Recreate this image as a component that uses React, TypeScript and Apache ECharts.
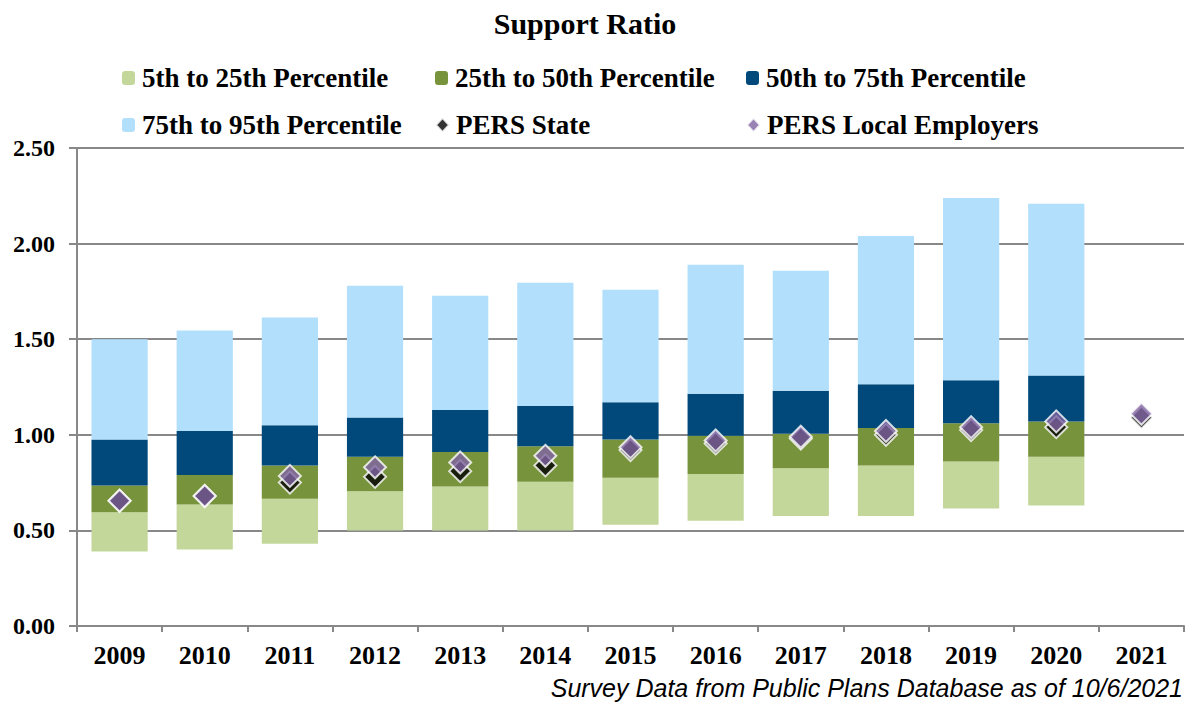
import React, { useEffect, useRef } from "react";
import * as echarts from "echarts";

const years = ["2009","2010","2011","2012","2013","2014","2015","2016","2017","2018","2019","2020","2021"];
const p5  = [0.39, 0.40, 0.43, 0.50, 0.50, 0.50, 0.53, 0.55, 0.575, 0.575, 0.615, 0.63, null];
const p25 = [0.595, 0.635, 0.665, 0.705, 0.73, 0.755, 0.775, 0.795, 0.825, 0.84, 0.86, 0.885, null];
const p50 = [0.735, 0.79, 0.84, 0.885, 0.91, 0.94, 0.975, 0.995, 1.005, 1.035, 1.06, 1.07, null];
const p75 = [0.975, 1.02, 1.05, 1.09, 1.13, 1.15, 1.17, 1.215, 1.23, 1.265, 1.285, 1.31, null];
const p95 = [1.50, 1.545, 1.613, 1.78, 1.727, 1.795, 1.759, 1.889, 1.858, 2.04, 2.239, 2.208, null];
const persState = [0.655, 0.68, 0.75, 0.78, 0.81, 0.84, 0.92, 0.955, 0.98, 1.00, 1.025, 1.04, 1.09];
const persLocal = [0.655, 0.68, 0.785, 0.83, 0.855, 0.89, 0.935, 0.97, 0.99, 1.02, 1.04, 1.07, 1.11];
const yTicks = { min: 0, max: 2.5, interval: 0.5 };

const names = [
  "5th to 25th Percentile",
  "25th to 50th Percentile",
  "50th to 75th Percentile",
  "75th to 95th Percentile",
  "PERS State",
  "PERS Local Employers",
];
const colors = ["#C4D79B", "#77933C", "#00497A", "#B1DFFC", "#000000", "#8064A2"];
const legendPos = [
  [122, 64], [435, 64], [746, 64],
  [122, 111], [435, 111], [746, 111],
];

const diff = (a: (number | null)[], b: (number | null)[]) =>
  a.map((v, i) => (v == null || b[i] == null ? "-" : +((v as number) - (b[i] as number)).toFixed(4)));

export default function App() {
  const ref = useRef<HTMLDivElement>(null);
  useEffect(() => {
    if (!ref.current) return;
    const chart = echarts.init(ref.current, null, { renderer: "svg" });
    const serif = "Liberation Serif";
    const segs = [diff(p25, p5), diff(p50, p25), diff(p75, p50), diff(p95, p75)];
    const barSeries = segs.map((d, i) => ({
      name: names[i],
      type: "bar",
      stack: "pct",
      barWidth: "66%",
      data: d,
      itemStyle: { color: colors[i] },
      z: 2,
    }));
    chart.setOption({
      animation: false,
      title: {
        text: "Support Ratio",
        left: 580,
        textAlign: "center",
        top: 3,
        textStyle: { fontFamily: serif, fontWeight: "bold", fontSize: 30, color: "#000" },
      },
      legend: names.map((n, i) => ({
        data: [n],
        left: legendPos[i][0],
        top: legendPos[i][1],
        padding: 0,
        itemWidth: 13,
        itemHeight: 14,
        itemGap: 4,
        selectedMode: false,
        textStyle: { fontFamily: serif, fontWeight: "bold", fontSize: 27, color: "#000", lineHeight: 28, padding: [0, 0, 0, 2] },
      })),
      grid: { left: 77, right: 11, top: 148, bottom: 80, containLabel: false },
      xAxis: {
        type: "category",
        data: years,
        boundaryGap: true,
        axisLine: { lineStyle: { color: "#888", width: 2 } },
        axisTick: { show: true, length: 6, interval: 0, lineStyle: { color: "#888", width: 2 } },
        axisLabel: { fontFamily: serif, fontWeight: "bold", fontSize: 26, color: "#000", margin: 16, interval: 0 },
      },
      yAxis: {
        type: "value",
        min: yTicks.min,
        max: yTicks.max,
        interval: yTicks.interval,
        axisLine: { show: true, lineStyle: { color: "#888", width: 2 } },
        axisTick: { show: true, length: 8, lineStyle: { color: "#888", width: 2 } },
        splitLine: { lineStyle: { color: "#888", width: 2 } },
        axisLabel: {
          fontFamily: serif, fontWeight: "bold", fontSize: 24, color: "#000", margin: 22,
          formatter: (v: number) => v.toFixed(2),
        },
      },
      series: [
        {
          name: "base",
          type: "bar",
          stack: "pct",
          barWidth: "66%",
          data: p5.map((v) => (v == null ? "-" : v)),
          itemStyle: { color: "transparent" },
          silent: true,
          z: 2,
        },
        ...barSeries,
        {
          name: names[4],
          type: "scatter",
          symbol: "diamond",
          symbolSize: 22,
          data: persState,
          itemStyle: { color: colors[4], borderColor: "#fff", borderWidth: 2 },
          z: 5,
        },
        {
          name: names[5],
          type: "scatter",
          symbol: "diamond",
          symbolSize: 22,
          data: persLocal,
          itemStyle: { color: colors[5], borderColor: "#fff", borderWidth: 2 },
          z: 6,
        },
      ],
      graphic: [
        {
          type: "text",
          right: 12,
          top: 675,
          style: {
            text: "Survey Data from Public Plans Database as of 10/6/2021",
            fontFamily: "Liberation Sans",
            fontStyle: "italic",
            fontSize: 25,
            fill: "#000",
          },
        },
      ],
    });
    return () => chart.dispose();
  }, []);
  return <div ref={ref} style={{ width: 1195, height: 706, position: "absolute", left: 0, top: 0, background: "#fff" }} />;
}
